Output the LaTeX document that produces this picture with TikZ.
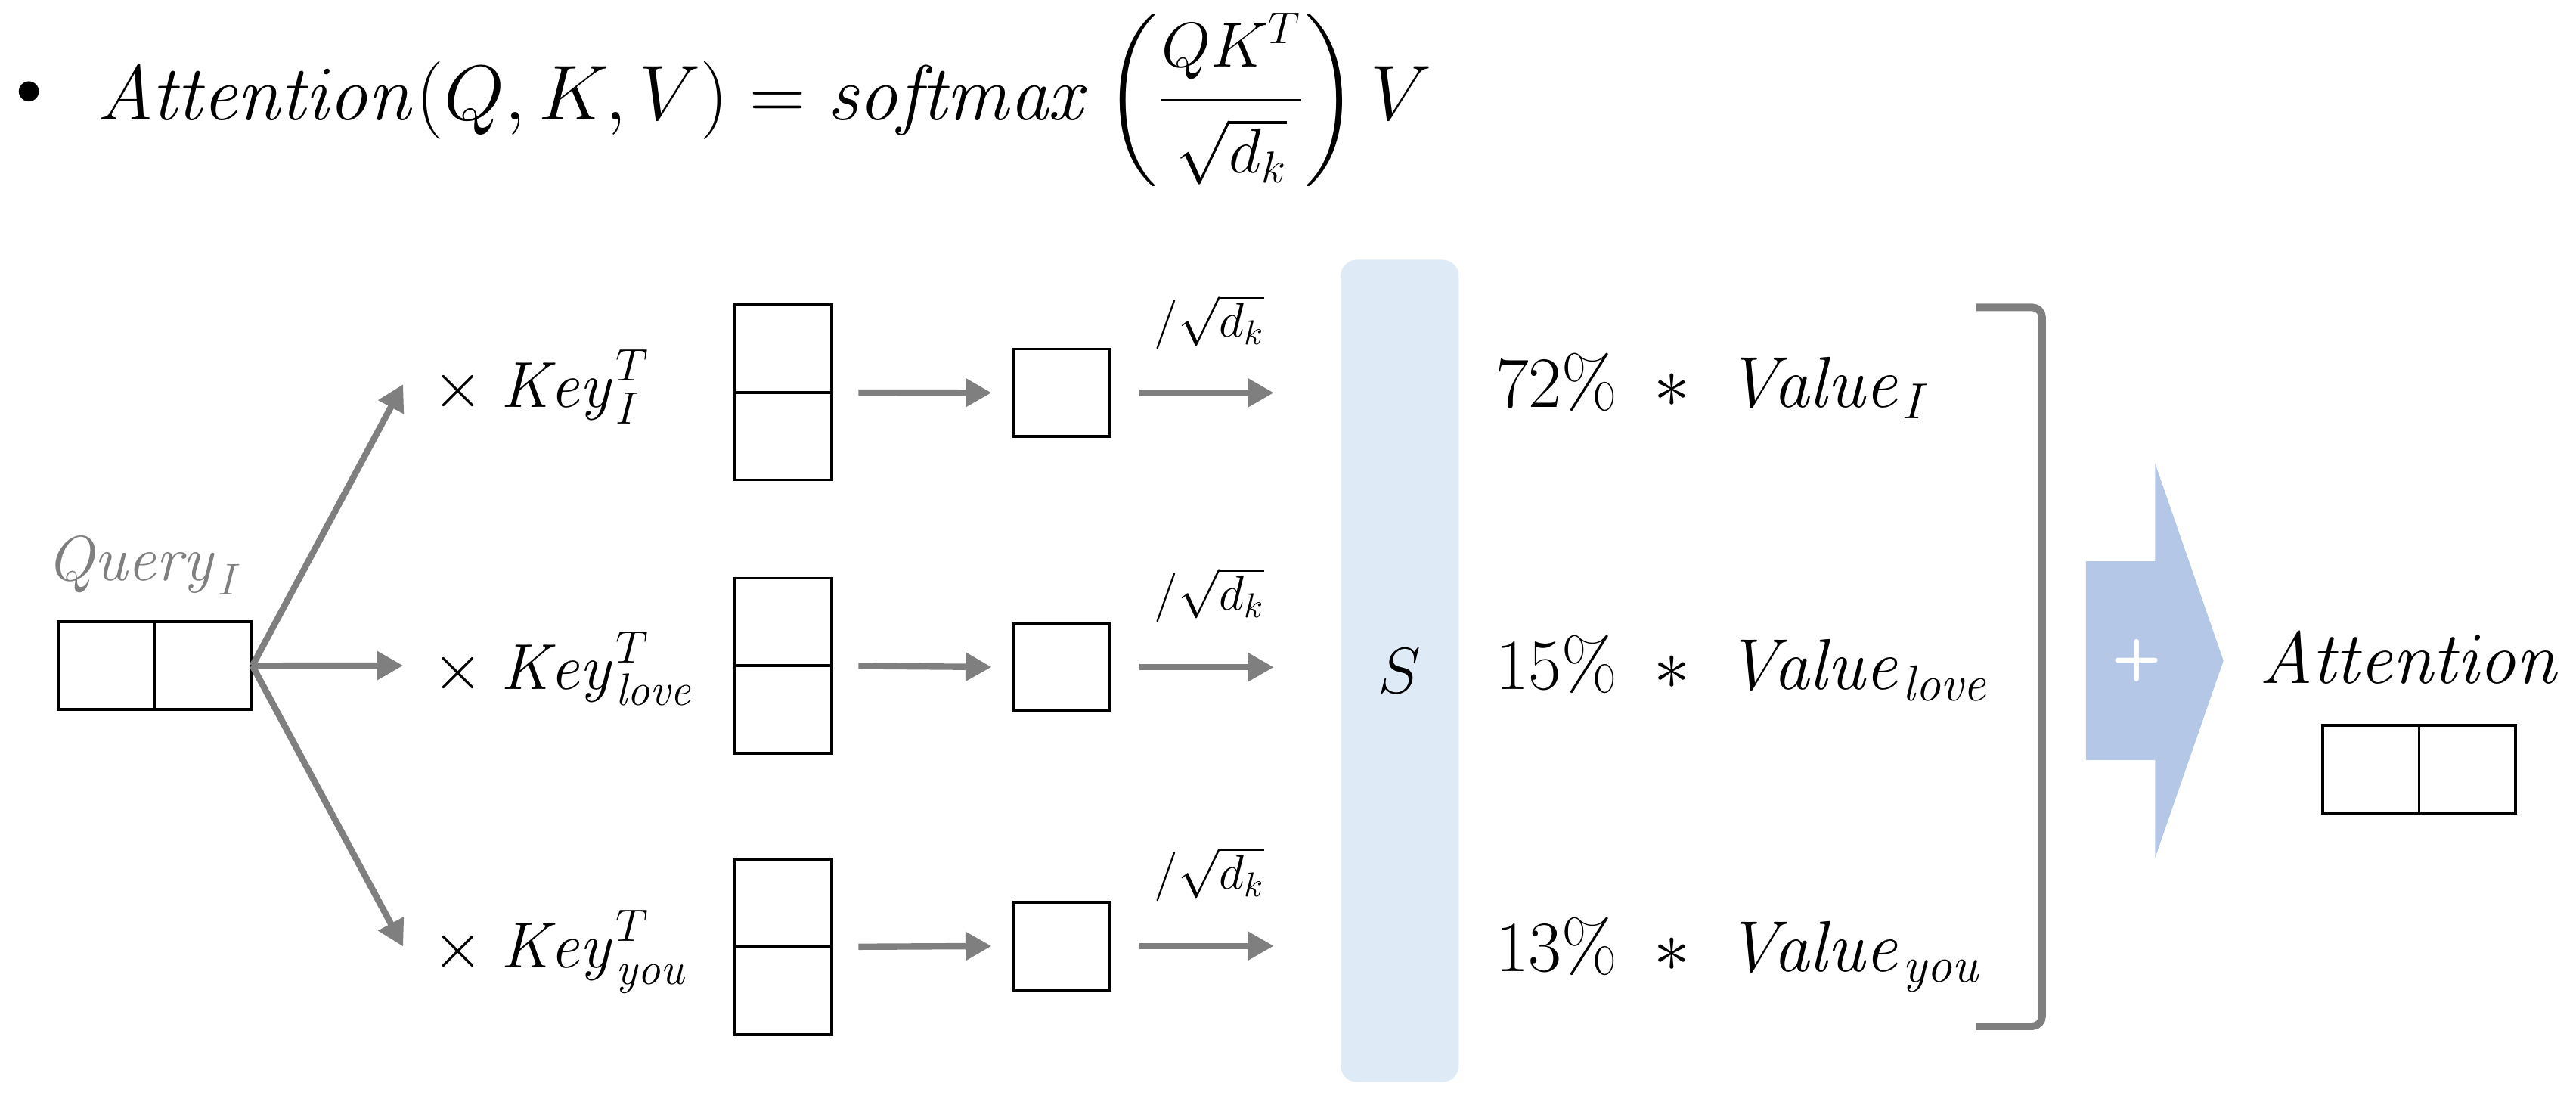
\RequirePackage{fix-cm}
\documentclass[tikz,border=0pt]{standalone}
\usepackage{amsmath}
\usetikzlibrary{arrows.meta,calc}
\definecolor{arrgray}{HTML}{7F7F7F}
\definecolor{sblue}{HTML}{DEEBF7}
\definecolor{pblue}{HTML}{B4C7E7}
\newcommand{\fracpart}[1]{\mbox{\fontsize{22}{26}\selectfont$#1$}}
\begin{document}
\begin{tikzpicture}[x=0.02cm,y=-0.02cm,
  garrow/.style={draw=arrgray, line width=2.2pt, -{Triangle[length=9pt,width=9.5pt]}},
  cell/.style={draw=black, line width=1pt, inner sep=0pt},
  hbox/.style={cell, minimum width=2.35cm, minimum height=1.07cm},
  vbox/.style={cell, minimum width=1.176cm, minimum height=2.13cm},
  sbox/.style={cell, minimum width=1.174cm, minimum height=1.066cm},
  divider/.style={line width=1pt},
  keylab/.style={anchor=base west, inner sep=0pt, font=\fontsize{22.5}{27}\selectfont},
  vallab/.style={anchor=base west, inner sep=0pt, font=\fontsize{25}{30}\selectfont},
  dklab/.style={inner sep=0pt, font=\fontsize{17}{20}\selectfont},
]
\useasboundingbox (0,0) rectangle (1568,674);

% title formula
\node[inner sep=0pt, font=\fontsize{18}{21}\selectfont] (bul) at (17.6,56.6) {$\bullet$};
\node[anchor=base west, inner sep=0pt, font=\fontsize{27}{32}\selectfont] (eq) at (58.6,72.8)
  {$\mathit{Attention}(Q,K,V)=\mathit{softmax}\left(\dfrac{\fracpart{QK^{T}}}{\fracpart{\sqrt{d_k}}}\right)V$};

% query
\node[hbox] (qbox) at (94,405.1) {};
\draw[divider] (qbox.north) -- (qbox.south);
\node[anchor=base, inner sep=0pt, text=arrgray, font=\fontsize{22}{26}\selectfont] (qlab) at (88,353.3) {$\mathit{Query}_{I}$};

% key labels
\node[keylab] (k1) at (263,248) {$\times\;\mathit{Key}^{T}_{I}$};
\node[keylab] (k2) at (263,419.5) {$\times\;\mathit{Key}^{T}_{\mathit{love}}$};
\node[keylab] (k3) at (263,589) {$\times\;\mathit{Key}^{T}_{\mathit{you}}$};
\coordinate (t1) at (245.4,233.8);
\coordinate (t2) at (245.4,405);
\coordinate (t3) at (245.4,576);
\draw[garrow] (qbox.east) -- (t1);
\draw[garrow] (qbox.east) -- (t2);
\draw[garrow] (qbox.east) -- (t3);

% key boxes
\node[vbox] (kb1) at (476.8,238.8) {};
\node[vbox] (kb2) at (476.8,405.1) {};
\node[vbox] (kb3) at (476.8,576.2) {};
\draw[divider] (kb1.west) -- (kb1.east);
\draw[divider] (kb2.west) -- (kb2.east);
\draw[divider] (kb3.west) -- (kb3.east);

% score boxes
\node[sbox] (sb1) at (646.25,239) {};
\node[sbox] (sb2) at (646.25,406) {};
\node[sbox] (sb3) at (646.25,575.6) {};
\draw[garrow, shorten <=0.31cm, shorten >=0.25cm] (kb1.east) -- (sb1.west);
\draw[garrow, shorten <=0.31cm, shorten >=0.25cm] (kb2.east) -- (sb2.west);
\draw[garrow, shorten <=0.31cm, shorten >=0.25cm] (kb3.east) -- (sb3.west);

% softmax column
\node[fill=sblue, rounded corners=0.2cm, minimum width=1.44cm, minimum height=10.01cm, inner sep=0pt,
      font=\fontsize{22.5}{27}\selectfont] (scol) at (852,408.25) {$S$};

\draw[garrow, shorten <=0.34cm, shorten >=0.806cm] (sb1.east) -- (sb1.east -| scol.west);
\draw[garrow, shorten <=0.34cm, shorten >=0.806cm] (sb2.east) -- (sb2.east -| scol.west);
\draw[garrow, shorten <=0.34cm, shorten >=0.806cm] (sb3.east) -- (sb3.east -| scol.west);
\node[dklab] (d1) at (736,196) {$/\sqrt{d_k}$};
\node[dklab] (d2) at (736,362) {$/\sqrt{d_k}$};
\node[dklab] (d3) at (736,532) {$/\sqrt{d_k}$};

% weighted values
\node[vallab] (v1) at (910,248) {$72\%\;\ast\;\mathit{Value}_{I}$};
\node[vallab] (v2) at (910,419.6) {$15\%\;\ast\;\mathit{Value}_{\mathit{love}}$};
\node[vallab] (v3) at (910,591) {$13\%\;\ast\;\mathit{Value}_{\mathit{you}}$};

% bracket
\draw[arrgray, line width=2.6pt, rounded corners=0.12cm] (1203,187) -- (1243,187) -- (1243,624.5) -- (1203,624.5);

% sum arrow
\fill[pblue] (1269.7,341.5) -- (1311.8,341.5) -- (1311.8,282) -- (1353.4,402) -- (1311.8,522) -- (1311.8,462.5) -- (1269.7,462.5) -- cycle;
\node[text=white, font=\sffamily\bfseries\fontsize{20}{24}\selectfont, inner sep=0pt] (plus) at (1300.8,402) {+};

% attention output
\node[anchor=base, inner sep=0pt, font=\fontsize{25.5}{30}\selectfont] (alab) at (1467.4,416) {$\mathit{Attention}$};
\node[hbox] (abox) at (1472.5,468.25) {};
\draw[divider] (abox.north) -- (abox.south);
\end{tikzpicture}
\end{document}
